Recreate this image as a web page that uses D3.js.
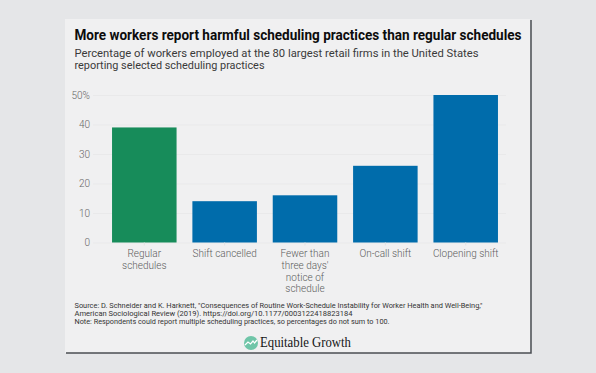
<!DOCTYPE html>
<html>
<head>
<meta charset="utf-8">
<script src="https://cdn.jsdelivr.net/npm/d3@7"></script>
<style>
  html, body { margin: 0; padding: 0; background: #e5e6e8; }
  svg { display: block; }
  text { font-family: Roboto, sans-serif; }
</style>
</head>
<body>
<svg id="chart"></svg>
<script>
const categories = ['Regular schedules', 'Shift cancelled', 'Fewer than three days\' notice of schedule', 'On-call shift', 'Clopening shift']
const values = [39, 14, 16, 26, 50]
const barColors = ['#178c5a', '#006cab', '#006cab', '#006cab', '#006cab']
const yTicks = [0, 10, 20, 30, 40, 50]
const categoryLines = [['Regular', 'schedules'], ['Shift cancelled'], ['Fewer than', 'three days\'', 'notice of', 'schedule'], ['On-call shift'], ['Clopening shift']]
const subtitleLines = [
  ['Percentage of workers employed at the 80 largest retail firms in the United States', 404],
  ['reporting selected scheduling practices', 190]
]
const noteLines = [
  ['Source: D. Schneider and K. Harknett, "Consequences of Routine Work-Schedule Instability for Worker Health and Well-Being,"', 408],
  ['American Sociological Review (2019). https://doi.org/10.1177/0003122418823184', 278],
  ['Note: Respondents could report multiple scheduling practices, so percentages do not sum to 100.', 315]
]

const width = 596
const height = 373
const svg = d3.select('#chart').attr('width', width).attr('height', height)

// panel with the dark right and bottom edges
svg.append('rect').attr('x', 65).attr('y', 19).attr('width', 465).attr('height', 334).attr('fill', '#f0f0f1')
svg.append('path')
  .attr('d', d3.line()([[531, 20], [531, 353], [66, 353]]))
  .attr('fill', 'none')
  .attr('stroke', '#4a4d52')
  .attr('stroke-width', 1.5)

svg.append('text').attr('x', 74.5).attr('y', 40)
  .attr('font-size', 15).attr('font-weight', 700).attr('fill', '#0c0c0c')
  .attr('textLength', 447).attr('lengthAdjust', 'spacingAndGlyphs')
  .text('More workers report harmful scheduling practices than regular schedules')

svg.selectAll('.subtitle').data(subtitleLines).join('text')
  .attr('class', 'subtitle')
  .attr('x', 74.5)
  .attr('y', (d, i) => 56.5 + i * 12)
  .attr('font-size', 11).attr('fill', '#3a3a3a')
  .attr('textLength', d => d[1]).attr('lengthAdjust', 'spacingAndGlyphs')
  .text(d => d[0])

const xScale = d3.scaleBand()
  .domain(categories)
  .range([104, 506])
  .paddingInner(0.197)
  .paddingOuter(0.1)
const yScale = d3.scaleLinear()
  .domain([0, 50])
  .range([242.5, 95])

// gridlines and value labels
const yAxis = d3.axisLeft(yScale)
  .tickValues(yTicks)
  .tickSize(-413)
  .tickPadding(3)
  .tickFormat(d => d === 50 ? '50%' : d)
const yAxisG = svg.append('g').attr('transform', 'translate(93, 0)').call(yAxis)
yAxisG.select('.domain').remove()
yAxisG.selectAll('line').attr('stroke', '#e9e9ea').attr('stroke-width', 1)
yAxisG.selectAll('text').attr('font-size', 10).attr('font-weight', 300).attr('fill', '#666').style('font-family', 'Roboto, sans-serif')

svg.selectAll('.bar').data(categories).join('rect')
  .attr('class', 'bar')
  .attr('x', d => xScale(d))
  .attr('y', (d, i) => yScale(values[i]))
  .attr('width', xScale.bandwidth())
  .attr('height', (d, i) => yScale(0) - yScale(values[i]))
  .attr('fill', (d, i) => barColors[i])

// category labels, wrapped by hand like the original
const xAxis = d3.axisBottom(xScale).tickSize(3).tickFormat('')
const xAxisG = svg.append('g').attr('transform', 'translate(0, 242.5)').call(xAxis)
xAxisG.select('.domain').remove()
xAxisG.selectAll('line').attr('stroke', '#e2e2e3')

const labelG = svg.selectAll('.cat').data(categories).join('text')
  .attr('class', 'cat')
  .attr('text-anchor', 'middle')
  .attr('font-size', 10)
  .attr('font-weight', 300)
  .attr('fill', '#5c5c5c')
labelG.each(function (d, i) {
  d3.select(this).selectAll('tspan').data(categoryLines[i]).join('tspan')
    .attr('x', xScale(d) + xScale.bandwidth() / 2)
    .attr('y', (l, j) => 257.3 + j * 11.7)
    .text(l => l)
})

svg.selectAll('.note').data(noteLines).join('text')
  .attr('class', 'note')
  .attr('x', 74.5)
  .attr('y', (d, i) => 308 + i * 8)
  .attr('font-size', 7).attr('font-weight', 400).attr('fill', '#333')
  .attr('textLength', d => d[1]).attr('lengthAdjust', 'spacingAndGlyphs')
  .text(d => d[0])

// logo
const logo = svg.append('g').attr('transform', 'translate(251, 343)')
logo.append('circle').attr('r', 7).attr('fill', '#6fc5a8')
logo.append('path')
  .attr('d', d3.line()([[-6, 2], [-3, -1], [-0.5, 1], [2, -2], [3.5, 0], [6, -3]]))
  .attr('fill', 'none').attr('stroke', '#fff').attr('stroke-width', 1.2)
svg.append('text').attr('x', 260).attr('y', 347)
  .attr('font-size', 15).attr('fill', '#151515')
  .style('font-family', '"Liberation Serif", serif')
  .attr('textLength', 91).attr('lengthAdjust', 'spacingAndGlyphs')
  .text('Equitable Growth')
</script>
</body>
</html>
